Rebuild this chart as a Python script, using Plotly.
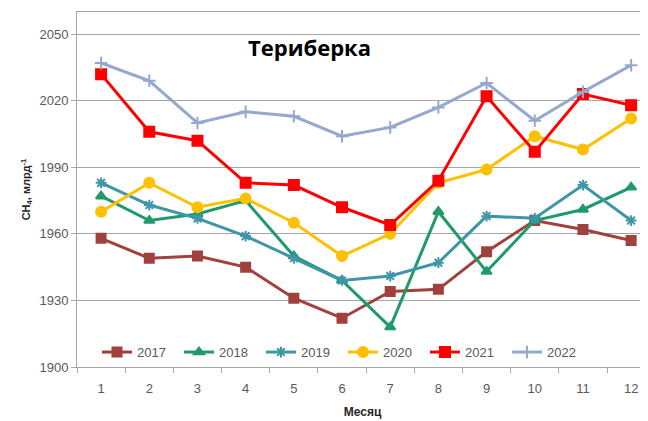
import plotly.graph_objects as go

months = list(range(1, 13))
month_labels = [str(m) for m in months]

v2017 = [1958, 1949, 1950, 1945, 1931, 1922, 1934, 1935, 1952, 1966, 1962, 1957]
v2018 = [1977, 1966, 1969, 1975, 1950, 1939, 1918, 1970, 1943, 1966, 1971, 1981]
v2019 = [1983, 1973, 1967, 1959, 1949, 1939, 1941, 1947, 1968, 1967, 1982, 1966]
v2020 = [1970, 1983, 1972, 1976, 1965, 1950, 1960, 1983, 1989, 2004, 1998, 2012]
v2021 = [2032, 2006, 2002, 1983, 1982, 1972, 1964, 1984, 2022, 1997, 2023, 2018]
v2022 = [2037, 2029, 2010, 2015, 2013, 2004, 2008, 2017, 2028, 2011, 2024, 2036]

series = [
    ("2017", v2017, "#A0413E", "square", 9),
    ("2018", v2018, "#1F9A6A", "triangle-up", 9),
    ("2019", v2019, "#3E96A8", "asterisk-open", 9),
    ("2020", v2020, "#FFC000", "circle", 10),
    ("2021", v2021, "#FF0000", "square", 10),
    ("2022", v2022, "#95A9CF", "cross-thin-open", 9),
]

fig = go.Figure()
for name, vals, color, sym, size in series:
    fig.add_trace(go.Scatter(
        x=months, y=vals, name=name, mode="lines+markers",
        line=dict(color=color, width=3),
        marker=dict(symbol=sym, size=size, color=color,
                    line=dict(color=color, width=2)),
    ))

fig.update_layout(
    width=648, height=421,
    margin=dict(l=69, r=8, t=4, b=62, autoexpand=False),
    paper_bgcolor="white", plot_bgcolor="white",
    font=dict(family="Liberation Sans, Arial", size=12, color="#595959"),
    showlegend=True,
    legend=dict(orientation="h", x=0.035, y=0.042, xanchor="left", yanchor="middle",
                bgcolor="rgba(255,255,255,0)", font=dict(size=13, color="#595959"),
                entrywidth=37, entrywidthmode="pixels", itemwidth=30),
    xaxis=dict(
        range=[0.5, 12.35], tickmode="array", tickvals=months, ticktext=month_labels,
        ticks="", showgrid=False, zeroline=False, automargin=False,
        showline=True, linecolor="#A6A6A6", linewidth=1, mirror=True,
        minor=dict(ticks="outside", tick0=0.5, dtick=1, ticklen=5, tickcolor="#A6A6A6", showgrid=False),
        ticklabelstandoff=9,
        title=dict(text="<b>Месяц</b>", font=dict(size=12, color="#262626"), standoff=13),
        tickfont=dict(size=13, color="#595959"),
    ),
    yaxis=dict(
        range=[1900, 2060], tickmode="array", tickvals=[1900, 1930, 1960, 1990, 2020, 2050],
        showgrid=True, gridcolor="#A6A6A6", gridwidth=1, zeroline=False, automargin=False,
        showline=True, linecolor="#A6A6A6", linewidth=1, mirror=True,
        ticks="outside", ticklen=5, tickcolor="#A6A6A6",
        title=dict(text="<b>CH<sub>4</sub>, млрд<sup>-1</sup></b>", font=dict(size=11, color="#262626"), standoff=6),
        tickfont=dict(size=13, color="#595959"),
    ),
    annotations=[dict(
        text="<b>Териберка</b>", x=0.408, y=2044.2, xref="paper", yref="y",
        showarrow=False, font=dict(family="Open Sans, Liberation Sans", size=22, color="#000000"),
    )],
)

fig.write_html("out.html")
